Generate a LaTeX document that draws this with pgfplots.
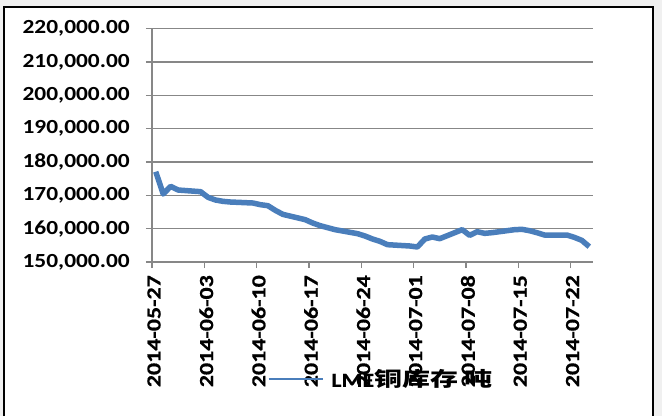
\documentclass[border=0pt]{standalone}
\usepackage{pgfplots}
\usepackage{pgfplotstable}
\pgfplotsset{compat=1.18}
\usepackage{fontspec}
\setmainfont{Carlito}
\newfontfamily\lab[FakeStretch=1.17]{Carlito}
\newfontfamily\xlab[FakeStretch=1.2,FakeBold=0.6]{Carlito}
\newfontfamily\cjk[FakeStretch=1.4]{Noto Sans CJK SC}
\definecolor{lineblue}{HTML}{4A7EBB}
\definecolor{gridgray}{HTML}{878787}
\definecolor{bggray}{HTML}{F0F0F0}
\pgfplotstableread{
d v
0.5 177100
1.5 170400
2.5 172700
3.5 171600
6.5 171100
7.5 169400
8.5 168600
9.5 168200
10.5 168000
13.5 167700
14.5 167200
15.5 166900
16.5 165500
17.5 164300
20.5 162700
21.5 161700
22.5 160900
23.5 160300
24.5 159700
27.5 158500
28.5 157800
29.5 156900
30.5 156200
31.5 155200
34.5 154800
35.5 154500
36.5 156900
37.5 157500
38.5 157000
41.5 159700
42.5 158000
43.5 159100
44.5 158600
45.5 158800
48.5 159700
49.5 159800
50.5 159400
51.5 158800
52.5 158100
55.5 158100
56.5 157400
57.5 156500
58.5 154600
}\lme
\begin{document}
\begin{tikzpicture}
\useasboundingbox (0pt,0pt) rectangle (662pt,416pt);
\fill[bggray] (0pt,0pt) rectangle (662pt,416pt);
\fill[white] (4pt,0pt) rectangle (653pt,409pt);
\draw[black,line width=2pt] (4pt,0pt) -- (4pt,409pt) -- (653pt,409pt) -- (653pt,0pt);
\begin{axis}[
  at={(152pt,154pt)}, anchor=south west,
  scale only axis, width=441pt, height=233.3pt,
  xmin=0, xmax=59, ymin=150000, ymax=220000,
  axis x line*=bottom, axis y line*=left,
  axis line style={gridgray, line width=1.3pt},
  xtick={0,7,14,21,28,35,42,49,56},
  xticklabels={2014-05-27,2014-06-03,2014-06-10,2014-06-17,2014-06-24,2014-07-01,2014-07-08,2014-07-15,2014-07-22},
  ytick={150000,160000,170000,180000,190000,200000,210000,220000},
  scaled y ticks=false,
  /pgf/number format/fixed, /pgf/number format/fixed zerofill,
  /pgf/number format/precision=2, /pgf/number format/1000 sep={,},
  /pgf/number format/assume math mode=true,
  tick align=outside, major tick length=6pt,
  tick style={gridgray, line width=1.3pt},
  ymajorgrids, grid style={gridgray, line width=1.3pt},
  yticklabel style={font=\lab\bfseries\fontsize{20}{20}\selectfont, anchor=east, inner sep=0pt, xshift=-16pt},
  xticklabel style={font=\xlab\bfseries\fontsize{20}{20}\selectfont, xshift=2pt, yshift=-7pt, rotate=90, anchor=east, inner sep=0pt},
  legend style={at={(axis description cs:0.263,-0.5015)}, anchor=west, draw=none, fill=none,
    inner sep=0pt, outer sep=0pt, font=\xlab\bfseries\fontsize{20}{20}\selectfont,
    nodes={inner sep=0pt}, /tikz/every odd column/.append style={column sep=8pt}},
  legend image code/.code={\draw[lineblue, line width=1.4pt] (0pt,0pt) -- (54pt,0pt);},
  clip=false,
]
\addplot[lineblue, line width=5.5pt, line join=round] table[x=d, y=v] {\lme};
\addlegendentry{LME{\cjk 铜库存 吨}}
\end{axis}
\end{tikzpicture}
\end{document}
